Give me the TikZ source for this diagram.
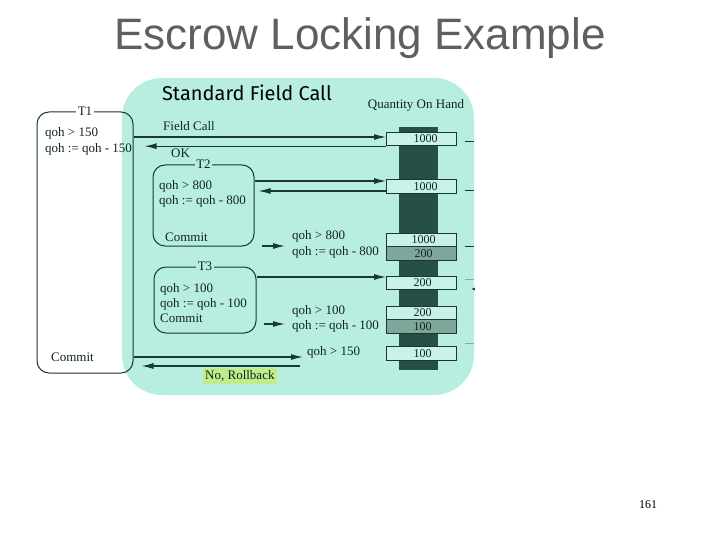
\documentclass[tikz,border=0pt]{standalone}
\usepackage{fontspec}
\setmainfont{Liberation Serif}
\newfontfamily\titlefont{Liberation Sans}
\newfontfamily\comicfont{Fira Sans}
\usetikzlibrary{arrows.meta}
\definecolor{tealbg}{RGB}{183,238,224}
\definecolor{ink}{RGB}{24,56,48}
\definecolor{textink}{RGB}{18,36,32}
\definecolor{boxfill}{RGB}{200,242,232}
\definecolor{stip}{RGB}{128,165,155}
\definecolor{barcol}{RGB}{38,80,70}
\definecolor{hilite}{RGB}{192,236,140}
\definecolor{titlegray}{RGB}{95,95,95}
\tikzset{
  txt/.style={anchor=west, inner sep=0pt, text=textink, font=\fontsize{13}{14}\selectfont},
  tbox/.style={draw=ink, line width=1pt, rounded corners=12pt, inner sep=0pt},
  tlabel/.style={inner sep=1.5pt, text=textink, font=\fontsize{13}{14}\selectfont},
  qbox/.style={draw=ink, line width=0.9pt, fill=boxfill, minimum width=70pt, minimum height=13.5pt, inner sep=0pt, text=textink, font=\fontsize{12}{12}\selectfont},
  arr/.style={draw=ink, line width=1.1pt, -{Latex[length=12pt,width=6pt]}},
  stub/.style={draw=ink, line width=0.9pt}
}
\begin{document}
\begin{tikzpicture}[x=1pt,y=-1pt]
\useasboundingbox (0,0) rectangle (720,540);
\fill[white] (0,0) rectangle (720,540);
% title
\node[font=\titlefont\fontsize{44}{50}\selectfont, text=titlegray, inner sep=0pt] (title) at (360,38) {Escrow Locking Example};
% teal panel
\fill[tealbg, rounded corners=40pt] (122,78) rectangle (474,395);
\node[font=\comicfont\fontsize{20}{22}\selectfont, text=black, inner sep=0pt] (sfc) at (247,93) {Standard Field Call};
\node[txt, anchor=center] (qohlbl) at (416,105) {Quantity On Hand};
% bar
\fill[barcol] (399,127) rectangle (438,370);
% quantity boxes
\node[qbox] (q1) at (421.5,139) {\hspace{8pt}1000};
\node[qbox] (q2) at (421.5,186.5) {\hspace{8pt}1000};
\node[qbox] (q3a) at (421.5,240) {\hspace{4pt}1000};
\node[qbox, fill=stip] (q3b) at (421.5,253.5) {\hspace{4pt}200};
\node[qbox] (q4) at (421.5,283) {\hspace{2pt}200};
\node[qbox] (q5a) at (421.5,313) {\hspace{2pt}200};
\node[qbox, fill=stip] (q5b) at (421.5,326.5) {\hspace{2pt}100};
\node[qbox] (q6) at (421.5,353.5) {\hspace{2pt}100};
% transaction boxes
\node[tbox, minimum width=96pt, minimum height=261pt] (T1) at (85,242.5) {};
\node[tlabel, fill=white] (T1l) at (T1.north) {T1};
\node[tbox, minimum width=101pt, minimum height=81pt] (T2) at (203.5,205.5) {};
\node[tlabel, fill=tealbg] (T2l) at (T2.north) {T2};
\node[tbox, minimum width=102pt, minimum height=66pt] (T3) at (205,300) {};
\node[tlabel, fill=tealbg] (T3l) at (T3.north) {T3};
% T1 text
\node[txt] (t1a) at (45,133) {qoh > 150};
\node[txt] (t1b) at (45,149) {qoh := qoh - 150};
\node[txt] (t1c) at (51,357) {Commit};
% T2 text
\node[txt] (t2a) at (159,186) {qoh > 800};
\node[txt] (t2b) at (159,201) {qoh := qoh - 800};
\node[txt] (t2c) at (165,237) {Commit};
% T3 text
\node[txt] (t3a) at (160,289) {qoh > 100};
\node[txt] (t3b) at (160,304) {qoh := qoh - 100};
\node[txt] (t3c) at (160,318) {Commit};
% other labels
\node[txt] (fc) at (163,126) {Field Call};
\node[txt] (ok) at (171,153) {OK};
\node[txt] (m2a) at (292,236) {qoh > 800};
\node[txt] (m2b) at (292,252) {qoh := qoh - 800};
\node[txt] (m3a) at (292,311) {qoh > 100};
\node[txt] (m3b) at (292,326) {qoh := qoh - 100};
\node[txt] (m1) at (307,352) {qoh > 150};
\node[txt, fill=hilite, inner xsep=2pt, inner ysep=2.5pt] (rb) at (203,376) {No, Rollback};
% connectors
\draw[arr] ([yshift=2pt]q1.west -| T1.east) -- ([yshift=2pt]q1.west);
\draw[arr, shorten >=11pt] (q1.south west) -- (q1.south west -| T1.east);
\draw[arr] ([yshift=5.5pt]q2.west -| T2.east) -- ([yshift=5.5pt]q2.west);
\draw[arr, shorten >=4pt] ([yshift=-4.5pt]q2.west) -- ([yshift=-4.5pt]q2.west -| T2.east);
\coordinate (c2s) at (262,246);
\coordinate (c2e) at (285,246);
\draw[arr] (c2s) -- (c2e);
\draw[arr] ([yshift=6pt]q4.west -| T3.east) -- ([yshift=6pt]q4.west);
\coordinate (c3s) at (264,324);
\coordinate (c3e) at (285,324);
\draw[arr] (c3s) -- (c3e);
\coordinate (c1e) at (303,357);
\draw[arr] (c1e -| T1.east) -- (c1e);
\coordinate (rbs) at (300,366);
\draw[arr, shorten >=8pt] (rbs) -- (rbs -| T1.east);
% cut-off connector stubs at right edge
\draw[stub] ([xshift=8pt,yshift=-2pt]q1.east) -- ++(9,0);
\draw[stub] ([xshift=8pt,yshift=-3.5pt]q2.east) -- ++(9,0);
\draw[stub] ([xshift=8pt]q3b.north east) -- ++(9,0);
\draw[stub, draw=ink!45] ([xshift=8pt,yshift=4pt]q4.east) -- ++(9,0);
\draw[stub, -{Latex[length=4pt,width=3pt]}] ([xshift=17pt,yshift=-6pt]q4.east) -- ++(-3,0);
\draw[stub, draw=ink!45] ([xshift=8pt,yshift=10pt]q6.east) -- ++(9,0);
% page number
\node[font=\fontsize{12}{14}\selectfont, inner sep=0pt] (pg) at (648,505) {161};
\end{tikzpicture}
\end{document}
